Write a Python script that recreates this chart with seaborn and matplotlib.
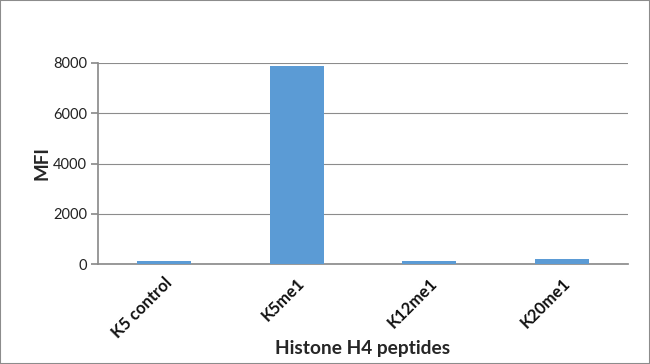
import matplotlib
matplotlib.use("Agg")
import matplotlib.pyplot as plt
import seaborn as sns
import pandas as pd
from matplotlib.patches import Rectangle

categories = ["K5 control", "K5me1", "K12me1", "K20me1"]
mfi = [100, 7900, 100, 180]
yticks = [0, 2000, 4000, 6000, 8000]

sns.set_theme(style="white")
plt.rcParams['font.family'] = ['Lato', 'DejaVu Sans']

df = pd.DataFrame({"peptide": categories, "MFI": mfi})

fig = plt.figure(figsize=(6.5, 3.64), dpi=100)
ax = fig.add_axes([98/650, 1 - 264/364, (628 - 98)/650, (264 - 63)/364])
sns.barplot(data=df, x="peptide", y="MFI", color="#5B9BD5", width=0.41,
            saturation=1, linewidth=0, ax=ax, zorder=3)
ax.set_ylim(0, 8000)
ax.set_xlim(-0.5, 3.5)
ax.set_yticks(yticks)
ax.set_yticklabels([str(t) for t in yticks], fontsize=10.5, color="#222222")
ax.yaxis.grid(True, color="#8c8c8c", linewidth=0.8, zorder=0)
ax.set_axisbelow(True)
for s in ["top", "right"]:
    ax.spines[s].set_visible(False)
ax.spines["left"].set_color("#8c8c8c")
ax.spines["bottom"].set_color("#8c8c8c")
ax.tick_params(axis="y", which="major", left=True, length=5, color="#8c8c8c", pad=3)
ax.tick_params(axis="x", bottom=False, pad=2)
ax.set_xticks(range(len(categories)))
ax.set_xticklabels(categories, rotation=45, ha="right", rotation_mode="anchor",
                   fontsize=12, fontweight="bold", color="#111111")
ax.set_xlabel("Histone H4 peptides", fontsize=13.8, fontweight="bold", labelpad=-1)
ax.set_ylabel("MFI", fontsize=13.5, fontweight="bold", labelpad=2)

fig.patches.append(Rectangle((0, 0), 1, 1, transform=fig.transFigure, fill=False,
                             edgecolor="#8c8c8c", linewidth=1.5))
fig.savefig("out.png", dpi=100)
